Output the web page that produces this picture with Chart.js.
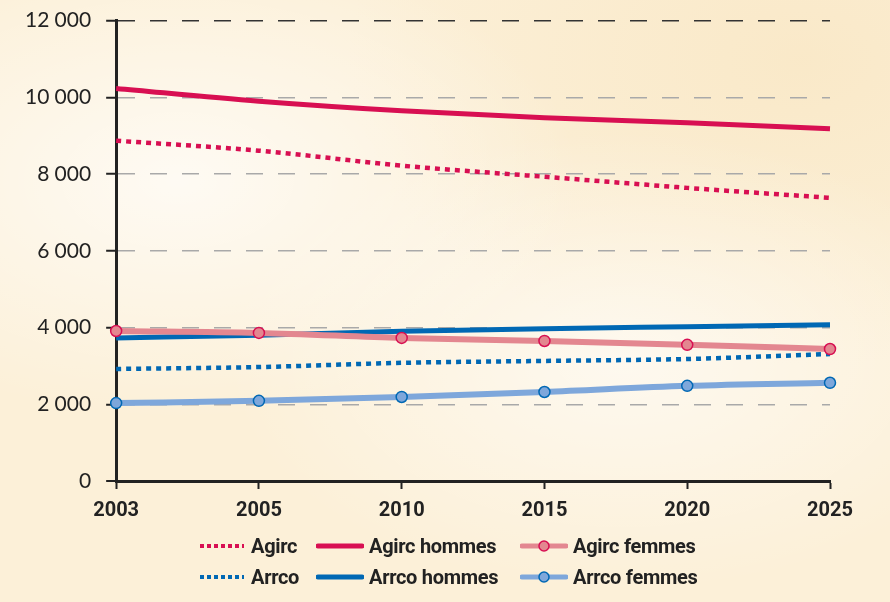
<!DOCTYPE html>
<html>
<head>
<meta charset="utf-8">
<script src="https://cdn.jsdelivr.net/npm/chart.js@4/dist/chart.umd.min.js"></script>
<style>
  html,body{margin:0;padding:0}
  body{width:890px;height:602px;overflow:hidden;position:relative;
    background:
      radial-gradient(ellipse at 20% 30%, rgba(255,255,255,.7), rgba(255,255,255,0) 40%),
      radial-gradient(ellipse at 70% 60%, rgba(255,255,255,.6), rgba(255,255,255,0) 45%),
      radial-gradient(ellipse at 90% 10%, rgba(248,228,190,.6), rgba(248,228,190,0) 40%),
      #fcf0d8;}
  #wrap{position:absolute;left:0;top:-7px;width:890px;height:543px}
  .legend{position:absolute;left:198px;top:535px;display:grid;
    grid-template-columns:118px 204px 200px;row-gap:9px;
    font-family:Roboto,sans-serif;font-weight:bold;font-size:20px;letter-spacing:-0.3px;color:#222}
  .legend div{display:flex;align-items:center;height:22px}
  .legend svg{margin-right:5px}
</style>
</head>
<body>
<div id="wrap"><canvas id="c"></canvas></div>
<div class="legend" id="legend"></div>
<script>
// ---- data ----
const years = ["2003","2005","2010","2015","2020","2025"];
const agirc        = [8870, 8610, 8220, 7930, 7640, 7380];
const agircHommes  = [10230, 9900, 9650, 9470, 9340, 9180];
const agircFemmes  = [3910, 3860, 3730, 3650, 3550, 3440];
const arrco        = [2920, 2970, 3080, 3130, 3180, 3310];
const arrcoHommes  = [3730, 3800, 3900, 3970, 4020, 4070];
const arrcoFemmes  = [2030, 2090, 2190, 2320, 2480, 2560];

const CRIMSON = "#d80f52", PINK = "#e38790", BLUE = "#0068b4", LBLUE = "#7ea7db";

const series = [
  {label:"Agirc",         data:agirc,       color:CRIMSON, dash:[5,5], width:4.5},
  {label:"Agirc hommes",  data:agircHommes, color:CRIMSON, width:5},
  {label:"Agirc femmes",  data:agircFemmes, color:PINK,   width:6, pt:CRIMSON},
  {label:"Arrco",         data:arrco,       color:BLUE,   dash:[5,5], width:4.5},
  {label:"Arrco hommes",  data:arrcoHommes, color:BLUE,   width:5},
  {label:"Arrco femmes",  data:arrcoFemmes, color:LBLUE,  width:6, pt:BLUE},
];

const fmt = v => String(v).replace(/\B(?=(\d{3})+(?!\d))/g, "\u202f");

new Chart(document.getElementById("c"), {
  type:"line",
  data:{
    labels: years,
    datasets: series.map(s=>({
      label:s.label, data:s.data, borderColor:s.color, borderWidth:s.width,
      borderDash:s.dash||[], borderCapStyle:"butt", tension:0.25, cubicInterpolationMode:"monotone",
      pointRadius: s.pt?5.5:0, pointBackgroundColor:s.color, pointBorderColor:s.pt||s.color,
      pointBorderWidth:1.5, fill:false
    }))
  },
  options:{
    responsive:true, maintainAspectRatio:false, animation:false,
    layout:{padding:{top:5,right:60,left:10,bottom:3}},
    plugins:{legend:{display:false}, tooltip:{enabled:false}},
    scales:{
      x:{
        offset:false,
        grid:{drawOnChartArea:false, drawTicks:true, tickLength:8, tickColor:"#222", tickWidth:2},
        border:{color:"#222", width:3},
        ticks:{color:"#222", padding:10, font:{family:"Roboto, sans-serif", weight:"bold", size:20}}
      },
      y:{
        min:0, max:12000,
        grid:{
          color: ctx => ctx.tick.value===12000 ? "#333" : "#a9a9a9",
          lineWidth: ctx => ctx.tick.value===0 ? 0 : 1.5,
          tickLength:10, tickColor:"#222", tickWidth:2, tickBorderDash:[]
        },
        border:{color:"#222", width:3, dash:[17,15]},
        ticks:{stepSize:2000, color:"#222", padding:15, callback:v=>fmt(v),
          font:{family:"Lato, 'Open Sans', sans-serif", size:21}}
      }
    }
  }
});

// legend
const lg = document.getElementById("legend");
series.forEach(s=>{
  const d = document.createElement("div");
  const dash = s.dash ? `stroke-dasharray="4 3"` : "";
  const dot = s.pt ? `<circle cx="24" cy="11" r="5" fill="${s.color}" stroke="${s.pt}" stroke-width="1.5"/>` : "";
  d.innerHTML = `<svg width="48" height="22"><line x1="2" y1="11" x2="46" y2="11" stroke="${s.color}" stroke-width="${s.dash?4:5}" stroke-linecap="${s.dash?'butt':'round'}" ${dash}/>${dot}</svg>${s.label}`;
  lg.appendChild(d);
});
</script>
</body>
</html>
